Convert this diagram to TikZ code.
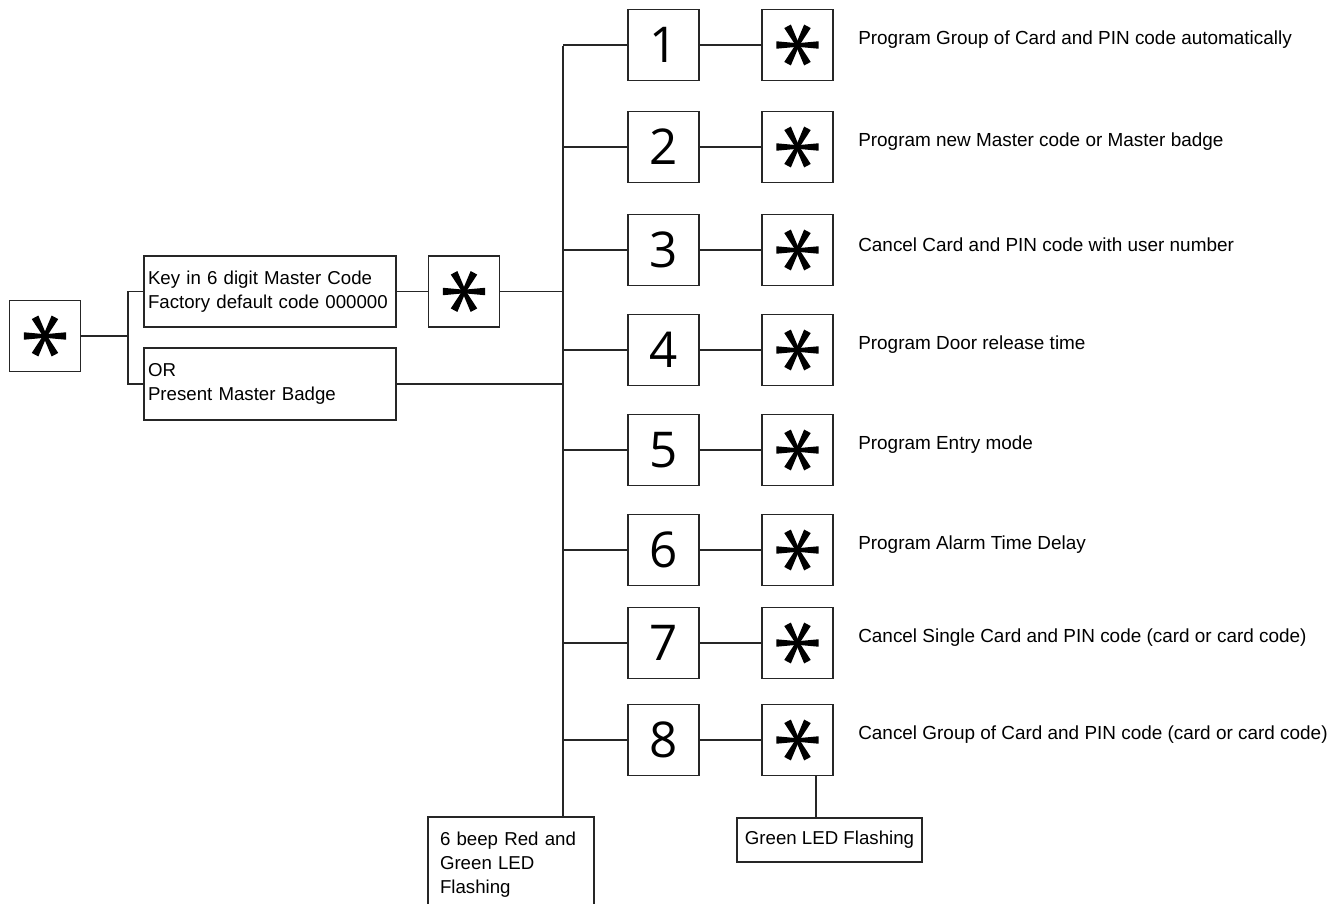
\documentclass[tikz,border=0pt]{standalone}
\usepackage{fontspec}
\setmainfont{Liberation Sans}
\newfontfamily\digitfont{Open Sans}

\newcommand\asterarm[1]{\fill[shift={(path picture bounding box.center)}, yshift=-1pt] (#1+90:1.8) -- (#1+10:21.5) -- (#1-10:21.5) -- (#1-90:1.8) -- cycle;}

\tikzset{
  box/.style={draw=black!85, line width=1.1pt, inner sep=0pt},
  numbox/.style={box, minimum width=53.25pt, minimum height=53.25pt, font=\digitfont\fontsize{37}{37}\selectfont},
  starbox/.style={box, minimum width=53.25pt, minimum height=53.25pt,
    path picture={\asterarm{0}\asterarm{62}\asterarm{118}\asterarm{180}\asterarm{242}\asterarm{298}}},
  txtbox/.style={box, align=left, font=\fontsize{14}{18}\selectfont},
  label/.style={anchor=west, inner sep=0pt, font=\fontsize{14.2}{18}\selectfont},
  wire/.style={draw=black!85, line width=1pt},
  trunk/.style={draw=black!85, line width=1.5pt}
}

\begin{document}
\begin{tikzpicture}[x=0.75pt,y=-0.75pt]
\useasboundingbox (0,0) rectangle (1342,903);

\node[starbox] (start) at (45,336) {};
\node[txtbox, text width=183pt, inner xsep=3pt, minimum height=53.25pt] (key) at (270,291.5) {Key in 6 digit Master Code\\Factory default code 000000};
\node[txtbox, text width=183pt, inner xsep=3pt, minimum height=54pt] (badge) at (270,384) {OR\\Present Master Badge};
\node[starbox] (keystar) at (464,291.5) {};
\coordinate (split) at (128,336);
\coordinate (top) at (563,46);

\node[numbox] (n1) at (663.5,45) {1};
\node[numbox] (n2) at (663.5,147) {2};
\node[numbox] (n3) at (663.5,250) {3};
\node[numbox] (n4) at (663.5,350) {4};
\node[numbox] (n5) at (663.5,450) {5};
\node[numbox] (n6) at (663.5,550) {6};
\node[numbox] (n7) at (663.5,643) {7};
\node[numbox] (n8) at (663.5,740) {8};

\node[starbox] (s1) at (797.5,45) {};
\node[starbox] (s2) at (797.5,147) {};
\node[starbox] (s3) at (797.5,250) {};
\node[starbox] (s4) at (797.5,350) {};
\node[starbox] (s5) at (797.5,450) {};
\node[starbox] (s6) at (797.5,550) {};
\node[starbox] (s7) at (797.5,643) {};
\node[starbox] (s8) at (797.5,740) {};

\node[label] (t1) at (858,40) {Program Group of Card and PIN code automatically};
\node[label] (t2) at (858,142) {Program new Master code or Master badge};
\node[label] (t3) at (858,245) {Cancel Card and PIN code with user number};
\node[label] (t4) at (858,345) {Program Door release time};
\node[label] (t5) at (858,445) {Program Entry mode};
\node[label] (t6) at (858,545) {Program Alarm Time Delay};
\node[label] (t7) at (858,638) {Cancel Single Card and PIN code (card or card code)};
\node[label] (t8) at (858,735) {Cancel Group of Card and PIN code (card or card code)};

\node[txtbox, text width=106.5pt, inner xsep=9pt, minimum height=72pt] (beep) at (511,865) {6 beep Red and\\Green LED\\Flashing};
\node[txtbox, minimum width=138.75pt, minimum height=33pt] (green) at (829.5,840) {Green LED Flashing};

\draw[wire] (start) -- (split);
\draw[wire] (key.west) -| (split) |- (badge.west);
\draw[wire] (key) -- (keystar);
\draw[wire] (keystar.east) -- (keystar.east -| top);
\draw[wire] (badge.east) -- (badge.east -| top);
\draw[trunk] (top) -- (top |- beep.north);

\draw[wire] (n1.west) -- (n1.west -| top);
\draw[wire] (n2.west) -- (n2.west -| top);
\draw[wire] (n3.west) -- (n3.west -| top);
\draw[wire] (n4.west) -- (n4.west -| top);
\draw[wire] (n5.west) -- (n5.west -| top);
\draw[wire] (n6.west) -- (n6.west -| top);
\draw[wire] (n7.west) -- (n7.west -| top);
\draw[wire] (n8.west) -- (n8.west -| top);

\draw[wire] (n1) -- (s1);
\draw[wire] (n2) -- (s2);
\draw[wire] (n3) -- (s3);
\draw[wire] (n4) -- (s4);
\draw[wire] (n5) -- (s5);
\draw[wire] (n6) -- (s6);
\draw[wire] (n7) -- (s7);
\draw[wire] (n8) -- (s8);

\draw[wire] ([xshift=13.9pt]s8.south) -- ([xshift=13.9pt]s8.south |- green.north);
\end{tikzpicture}
\end{document}
